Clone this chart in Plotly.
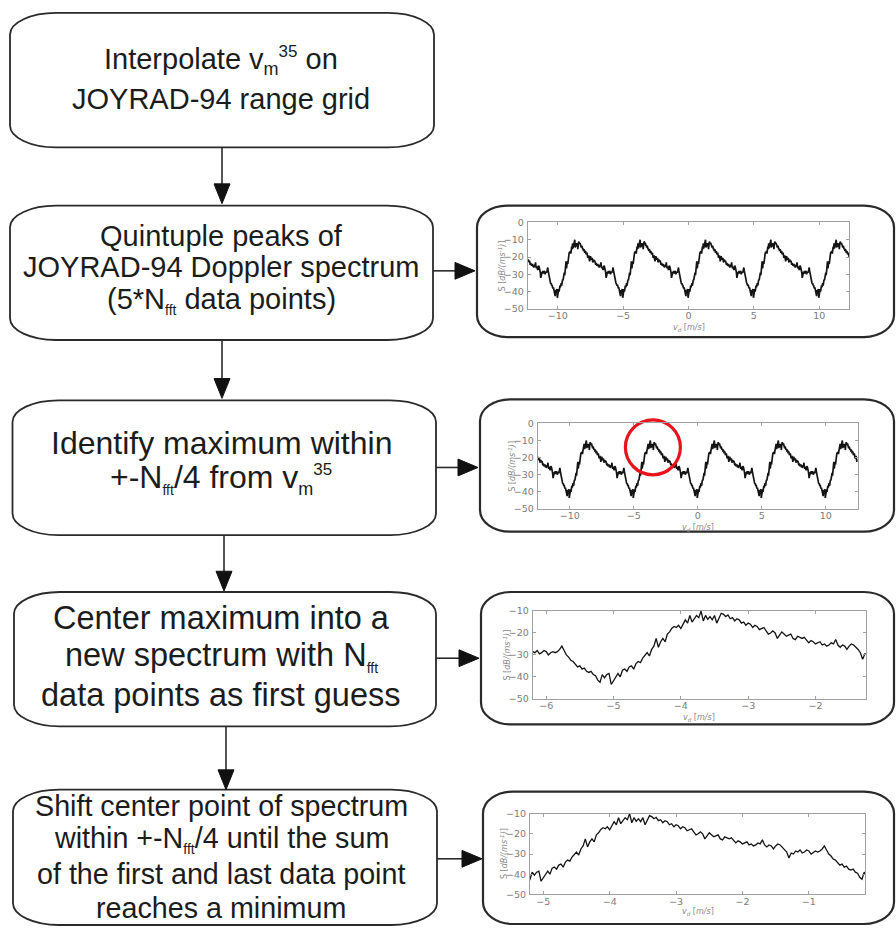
import numpy as np
import plotly.graph_objects as go

W, H = 896, 931

# One Nyquist interval of the JOYRAD-94 Doppler spectrum, S in dB/(m s^-1),
# sampled every 1/30 m/s starting at -5.2 m/s (N_fft points)
N_FFT = 150
DV = 1.0 / 30.0
BASE_START = -5.2
spectrum_db = [
    -42.5, -39.0, -40.5, -39.0, -38.5, -43.5, -42.0, -40.0, -38.5, -40.0,
    -37.0, -36.5, -37.5, -35.5, -35.0, -36.5, -34.0, -33.0, -33.5, -31.5,
    -30.0, -29.0, -30.5, -27.5, -26.0, -22.5, -26.5, -24.0, -22.5, -24.0,
    -20.5, -19.5, -17.8, -17.0, -17.5, -16.5, -18.0, -16.0, -14.0, -15.5,
    -12.0, -15.0, -13.5, -12.0, -13.0, -10.0, -14.5, -12.0, -13.8, -12.5,
    -14.0, -12.0, -15.5, -13.0, -11.0, -11.5, -12.5, -11.8, -13.5, -13.0,
    -14.5, -13.5, -14.0, -15.5, -15.0, -16.5, -15.5, -16.0, -17.5, -16.5,
    -17.0, -18.5, -18.0, -17.5, -19.0, -20.5, -20.0, -19.0, -20.0, -22.5,
    -21.0, -19.5, -20.5, -21.5, -21.0, -20.5, -22.5, -23.0, -21.5, -22.0,
    -22.5, -22.0, -23.5, -24.5, -23.5, -24.0, -25.0, -24.5, -24.0, -25.5,
    -25.0, -26.0, -25.5, -24.5, -25.0, -23.0, -25.5, -26.5, -25.5, -26.0,
    -27.5, -26.0, -25.0, -25.5, -26.5, -27.5, -29.0, -32.0, -29.5, -30.0,
    -28.5, -29.0, -28.0, -29.5, -29.0, -28.0, -28.5, -30.0, -29.0, -28.5,
    -29.0, -28.5, -27.5, -26.0, -28.0, -30.0, -31.0, -32.5, -33.0, -34.5,
    -35.5, -35.0, -36.5, -36.0, -37.5, -38.0, -37.5, -39.0, -39.5, -41.5,
]

# Quintupled spectrum (5 * N_fft points) on -12.5 ... 12.5 m/s
N_PEAKS = 5
V_START = -12.5

# Velocity windows of the four panels
window_quint = [-12.3, 12.3]
window_max = [-12.5, 12.5]
window_first_guess = [-6.2, -1.25]
window_final = [-5.2, -0.15]

# Maximum found within +-N_fft/4 from v_m^35
max_marker_v = [-3.5]
max_marker_s = [-14.0]

shift = int(round((BASE_START - V_START) / DV)) % N_FFT
s_quint = np.tile(np.roll(np.array(spectrum_db), shift), N_PEAKS)
v_quint = V_START + np.arange(N_PEAKS * N_FFT) * DV

TEXT_FONT = "Liberation Sans"
TEXT_COLOR = "#1c1c1c"
EDGE = "#2a2a2a"


def rounded_path(x0, y0, x1, y1, rx, ry):
    k = 0.5523
    return (
        f"M{x0 + rx},{y0} L{x1 - rx},{y0} "
        f"C{x1 - rx + k * rx},{y0} {x1},{y0 + ry - k * ry} {x1},{y0 + ry} "
        f"L{x1},{y1 - ry} "
        f"C{x1},{y1 - ry + k * ry} {x1 - rx + k * rx},{y1} {x1 - rx},{y1} "
        f"L{x0 + rx},{y1} "
        f"C{x0 + rx - k * rx},{y1} {x0},{y1 - ry + k * ry} {x0},{y1 - ry} "
        f"L{x0},{y0 + ry} "
        f"C{x0},{y0 + ry - k * ry} {x0 + rx - k * rx},{y0} {x0 + rx},{y0} Z"
    )


def small(txt, px):
    return f"<span style='font-size:{px}px'>{txt}</span>"


shapes = []
annotations = []

# Flowchart step boxes (pixel frame of the canvas axis)
step_boxes = [
    (10, 7, 434, 143),
    (10, 202, 433, 338),
    (12.5, 399, 436, 535.5),
    (14, 593, 436, 729),
    (13, 793, 437, 930),
]
for (x0, y0, x1, y1) in step_boxes:
    shapes.append(dict(type="path", xref="x", yref="y",
                       path=rounded_path(x0, y0, x1, y1, 46, 22),
                       line=dict(color=EDGE, width=1.8), fillcolor="rgba(0,0,0,0)"))

# Frames around the spectrum panels
panel_boxes = [
    (477, 202, 894, 335),
    (480, 398, 894, 532),
    (481, 593, 894, 727),
    (483, 795, 894, 929),
]
for (x0, y0, x1, y1) in panel_boxes:
    shapes.append(dict(type="path", xref="x", yref="y",
                       path=rounded_path(x0, y0, x1, y1, 30, 22),
                       line=dict(color=EDGE, width=2.2), fillcolor="rgba(0,0,0,0)"))


def down_arrow(x, y_from, y_tip, hw=8, hl=20):
    shapes.append(dict(type="line", xref="x", yref="y", x0=x, x1=x, y0=y_from, y1=y_tip - hl + 1,
                       line=dict(color=EDGE, width=1.6)))
    shapes.append(dict(type="path", xref="x", yref="y",
                       path=f"M{x - hw},{y_tip - hl} L{x + hw},{y_tip - hl} L{x},{y_tip} Z",
                       fillcolor="#111", line=dict(color="#111", width=1)))


def right_arrow(y, x_from, x_tip, hw=8.5, hl=20):
    shapes.append(dict(type="line", xref="x", yref="y", x0=x_from, x1=x_tip - hl + 1, y0=y, y1=y,
                       line=dict(color=EDGE, width=1.6)))
    shapes.append(dict(type="path", xref="x", yref="y",
                       path=f"M{x_tip - hl},{y - hw} L{x_tip - hl},{y + hw} L{x_tip},{y} Z",
                       fillcolor="#111", line=dict(color="#111", width=1)))


down_arrow(222, 143, 200)
down_arrow(222, 338, 397)
down_arrow(224, 535.5, 592)
down_arrow(226, 729, 793)
right_arrow(268, 433, 475)
right_arrow(467, 436, 478)
right_arrow(660, 436, 479)
right_arrow(863, 437, 482)

V_M35 = "v<sub>" + small("m", 18) + "</sub><sup>" + small("35", 17) + "</sup>"
N_FFT_TXT = "N<sub>" + small("fft", 14) + "</sub>"

# Step texts: (text, baseline y, font size)
step_lines = [
    (f"Interpolate {V_M35} on", 66, 29),
    ("JOYRAD-94 range grid", 105, 29),
    ("Quintuple peaks of", 243, 29),
    ("JOYRAD-94 Doppler spectrum", 275, 29),
    (f"(5*{N_FFT_TXT} data points)", 308, 29),
    ("Identify maximum within", 454, 32),
    (f"+-{N_FFT_TXT}/4 from {V_M35}", 490, 32),
    ("Center maximum into a", 631, 32.5),
    (f"new spectrum with {N_FFT_TXT}", 670, 32.5),
    ("data points as first guess", 709, 32.5),
    ("Shift center point of spectrum", 820, 28.7),
    (f"within +-{N_FFT_TXT}/4 until the sum", 854, 28.7),
    ("of the first and last data point", 889, 28.7),
    ("reaches a minimum", 923, 28.7),
]
for txt, base, fs in step_lines:
    annotations.append(dict(xref="x", yref="y", x=221, y=base - 0.36 * fs, text=txt,
                            showarrow=False, xanchor="center", yanchor="middle",
                            font=dict(family=TEXT_FONT, size=fs, color=TEXT_COLOR)))

# Spectrum panels: plot-area pixel boxes (left, top, right, bottom)
panel_areas = [
    (527.7, 219.0, 849.3, 306.7),
    (537.7, 422.3, 857.7, 509.0),
    (532.7, 612.3, 866.0, 701.0),
    (530.0, 817.3, 865.3, 899.0),
]
panel_windows = [window_quint, window_max, window_first_guess, window_final]
panel_yranges = [[-50, 0], [-50, 0], [-50, -10], [-50, -10]]
panel_xticks = [[-10, -5, 0, 5, 10], [-10, -5, 0, 5, 10],
                [-6, -5, -4, -3, -2], [-5, -4, -3, -2, -1]]
panel_xtitle_gap = [19, 19, 19, 18]
panel_line_width = [1.7, 1.7, 1.3, 1.3]

fig = go.Figure()

AX_GRAY = "#a0a0a0"
TICK_FONT = dict(family="DejaVu Sans", size=9.5, color="#7c7c7c")
layout_axes = {}
for i, (area, win, yr, xt) in enumerate(zip(panel_areas, panel_windows, panel_yranges, panel_xticks)):
    n = i + 2
    l, t, r, b = area
    fig.add_trace(go.Scatter(x=v_quint, y=s_quint, mode="lines",
                             line=dict(color="#141414", width=panel_line_width[i]),
                             xaxis=f"x{n}", yaxis=f"y{n}", showlegend=False, hoverinfo="skip"))
    common = dict(showline=True, linecolor=AX_GRAY, linewidth=1, mirror="ticks",
                  ticks="inside", ticklen=3, tickcolor=AX_GRAY, showgrid=False,
                  zeroline=False, tickfont=TICK_FONT, fixedrange=True)
    layout_axes[f"xaxis{n}"] = dict(domain=[l / W, r / W], anchor=f"y{n}", range=win,
                                    tickvals=xt, ticklabelstandoff=-2, **common)
    layout_axes[f"yaxis{n}"] = dict(domain=[1 - b / H, 1 - t / H], anchor=f"x{n}", range=yr,
                                    dtick=10, tick0=0, ticklabelstandoff=1, **common)
    annotations.append(dict(xref=f"x{n} domain", yref=f"y{n} domain", x=0.5, y=0,
                            yshift=-panel_xtitle_gap[i], xanchor="center", yanchor="middle",
                            text="<i>v<sub>d</sub></i> [<i>m/s</i>]", showarrow=False,
                            font=dict(family="DejaVu Sans", size=8, color="#8a8a8a")))
    annotations.append(dict(xref=f"x{n} domain", yref=f"y{n} domain", x=0, y=0.5,
                            xshift=-26, xanchor="center", yanchor="middle", textangle=-90,
                            text="S [<i>dB/(ms<sup>-1</sup>)</i>]", showarrow=False,
                            font=dict(family="DejaVu Sans", size=8, color="#8a8a8a")))

# Red circle around the identified maximum
fig.add_trace(go.Scatter(x=max_marker_v, y=max_marker_s, mode="markers", xaxis="x3", yaxis="y3",
                         marker=dict(symbol="circle-open", size=55, color="#e8141c",
                                     line=dict(width=3.2)),
                         cliponaxis=False, showlegend=False, hoverinfo="skip"))

# Canvas axis in pixel units for the flowchart drawing
fig.add_trace(go.Scatter(x=[0, W], y=[0, H], mode="markers", marker=dict(opacity=0),
                         xaxis="x", yaxis="y", showlegend=False, hoverinfo="skip"))

fig.update_layout(
    width=W, height=H,
    margin=dict(l=0, r=0, t=0, b=0),
    paper_bgcolor="white", plot_bgcolor="white",
    xaxis=dict(domain=[0, 1], range=[0, W], visible=False, fixedrange=True),
    yaxis=dict(domain=[0, 1], range=[H, 0], visible=False, fixedrange=True),
    shapes=shapes,
    annotations=annotations,
    **layout_axes,
)

fig.write_html("out.html", config=dict(displayModeBar=False))
